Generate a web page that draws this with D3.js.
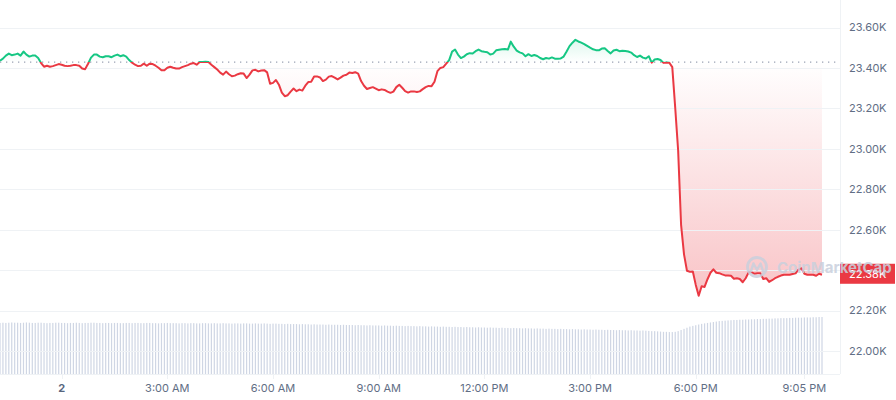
<!DOCTYPE html>
<html><head><meta charset="utf-8">
<script src="https://cdn.jsdelivr.net/npm/d3@7"></script>
<style>
body{margin:0;background:#fff;}
svg{display:block;font-family:Inter,"Noto Sans",sans-serif;}
</style>
</head><body>
<svg id="chart" width="896" height="400"></svg>
<script>
// ---- data ----
const startTime = new Date(2023, 2, 1, 22, 15);
const stepMinutes = 5;
const referencePrice = 23429;
const lastPriceLabel = "22.38K";

const prices = [
23436,23446,23461,23471,23463,23466,23471,23461,23481,23466,
23456,23461,23461,23449,23424,23406,23411,23406,23409,23414,
23419,23416,23411,23409,23411,23414,23414,23411,23397,23394,
23421,23451,23466,23466,23456,23453,23458,23458,23453,23461,
23466,23458,23463,23456,23439,23426,23416,23409,23411,23421,
23411,23421,23419,23411,23401,23389,23389,23401,23406,23401,
23397,23397,23404,23409,23414,23421,23424,23416,23429,23429,
23431,23429,23416,23404,23392,23377,23367,23382,23369,23359,
23362,23369,23374,23372,23350,23367,23388,23391,23383,23387,
23389,23378,23322,23326,23340,23317,23278,23260,23265,23283,
23298,23285,23293,23288,23312,23330,23332,23358,23358,23353,
23335,23342,23357,23360,23352,23343,23352,23362,23366,23377,
23375,23379,23372,23335,23312,23296,23301,23305,23298,23290,
23294,23291,23283,23277,23283,23305,23317,23302,23285,23278,
23284,23284,23281,23284,23295,23305,23311,23310,23332,23384,
23400,23404,23421,23439,23481,23491,23466,23449,23456,23468,
23473,23471,23483,23491,23483,23480,23478,23466,23471,23487,
23490,23492,23494,23491,23530,23505,23486,23477,23472,23458,
23468,23459,23464,23459,23449,23443,23449,23446,23452,23446,
23445,23447,23456,23481,23508,23525,23539,23531,23525,23518,
23509,23500,23492,23488,23487,23496,23497,23484,23472,23486,
23490,23483,23485,23484,23481,23476,23463,23454,23461,23451,
23447,23458,23426,23442,23444,23439,23425,23427,23426,23404,
23203,22991,22624,22478,22397,22392,22393,22327,22273,22320,
22317,22355,22387,22404,22387,22385,22379,22374,22373,22372,
22357,22360,22356,22340,22360,22389,22389,22382,22385,22384,
22356,22360,22342,22350,22360,22367,22373,22377,22377,22377,
22381,22384,22402,22409,22382,22377,22377,22377,22372,22382,22377
];

// 24h volume, billions USD
const volumes = [
22.4,22.5,22.4,22.5,22.6,22.5,22.5,22.4,22.5,22.6,22.5,22.4,22.4,22.5,22.5,22.4,22.3,22.4,22.4,22.5,
22.5,22.4,22.4,22.3,22.4,22.4,22.5,22.4,22.3,22.4,22.4,22.5,22.5,22.4,22.4,22.3,22.4,22.4,22.3,22.4,
22.4,22.3,22.3,22.4,22.4,22.3,22.4,22.4,22.3,22.3,22.4,22.4,22.3,22.3,22.2,22.3,22.3,22.4,22.3,22.3,
22.3,22.2,22.3,22.3,22.2,22.3,22.3,22.2,22.2,22.3,22.3,22.2,22.2,22.3,22.2,22.2,22.3,22.2,22.2,22.1,
22.2,22.2,22.1,22.2,22.2,22.1,22.1,22.2,22.1,22.1,22.2,22.1,22.0,22.1,22.1,22.0,22.0,21.9,22.0,21.9,
21.9,21.9,21.8,21.9,21.8,21.8,21.7,21.8,21.7,21.7,21.7,21.6,21.7,21.6,21.6,21.6,21.5,21.6,21.5,21.5,
21.5,21.4,21.5,21.4,21.4,21.3,21.4,21.3,21.3,21.3,21.2,21.3,21.2,21.2,21.1,21.2,21.1,21.1,21.0,21.1,
21.0,21.0,20.9,21.0,20.9,20.9,20.8,20.9,20.8,20.8,20.7,20.8,20.7,20.7,20.6,20.7,20.6,20.6,20.5,20.6,
20.5,20.5,20.4,20.5,20.4,20.4,20.3,20.4,20.3,20.3,20.2,20.3,20.2,20.2,20.1,20.2,20.1,20.1,20.0,20.1,
20.0,20.0,19.9,20.0,19.9,19.9,19.8,19.9,19.8,19.8,19.7,19.8,19.7,19.7,19.6,19.7,19.6,19.6,19.5,19.6,
19.5,19.5,19.4,19.5,19.4,19.4,19.3,19.4,19.3,19.3,19.2,19.3,19.2,19.2,19.1,19.2,19.1,19.1,19.0,19.1,
19.0,18.9,18.8,18.8,18.7,18.6,18.5,18.5,18.4,18.4,18.5,18.8,19.3,19.8,20.3,20.8,21.1,21.4,21.7,22.0,
22.2,22.4,22.6,22.8,23.0,23.2,23.3,23.4,23.5,23.6,23.7,23.7,23.8,23.8,23.9,23.9,24.0,24.0,24.1,24.1,
24.2,24.2,24.3,24.3,24.4,24.4,24.5,24.5,24.5,24.6,24.6,24.7,24.7,24.7,24.8,24.8,24.8,24.9,24.9,25.0,25.0
];

const yTickValues = [22000, 22200, 22400, 22600, 22800, 23000, 23200, 23400, 23600];
const yTickLabels = ["22.00K","22.20K","22.40K","22.60K","22.80K","23.00K","23.20K","23.40K","23.60K"];
const xTickTimes = [
  new Date(2023,2,2,0,0), new Date(2023,2,2,3,0), new Date(2023,2,2,6,0), new Date(2023,2,2,9,0),
  new Date(2023,2,2,12,0), new Date(2023,2,2,15,0), new Date(2023,2,2,18,0), new Date(2023,2,2,21,5)
];
const xTickLabels = ["2","3:00 AM","6:00 AM","9:00 AM","12:00 PM","3:00 PM","6:00 PM","9:05 PM"];

// ---- build ----
const data = prices.map((p, i) => ({
  t: new Date(startTime.getTime() + i * stepMinutes * 60000),
  p: p,
  v: volumes[i]
}));

const W = 896, H = 400;
const plotRight = 840, plotBottom = 374;
const svg = d3.select("#chart");

const x = d3.scaleTime().domain([data[0].t, data[data.length - 1].t]).range([0, 822]);
const y = d3.scaleLinear().domain([22000, 23600]).range([351, 27.5]);
const yV = d3.scaleLinear().domain([0, 25]).range([plotBottom, 317]);

const RED = "#ea3943", GREEN = "#16c784";
const yRef = y(referencePrice);
const minP = d3.min(prices), maxP = d3.max(prices);

const defs = svg.append("defs");
const rg = defs.append("linearGradient").attr("id", "redGrad")
  .attr("gradientUnits", "userSpaceOnUse").attr("x1", 0).attr("x2", 0)
  .attr("y1", yRef).attr("y2", y(minP));
rg.append("stop").attr("offset", 0).attr("stop-color", RED).attr("stop-opacity", 0.0);
rg.append("stop").attr("offset", 1).attr("stop-color", RED).attr("stop-opacity", 0.3);
const gg = defs.append("linearGradient").attr("id", "greenGrad")
  .attr("gradientUnits", "userSpaceOnUse").attr("x1", 0).attr("x2", 0)
  .attr("y1", yRef).attr("y2", y(maxP));
gg.append("stop").attr("offset", 0).attr("stop-color", GREEN).attr("stop-opacity", 0.0);
gg.append("stop").attr("offset", 1).attr("stop-color", GREEN).attr("stop-opacity", 0.14);

defs.append("clipPath").attr("id", "clipAbove").append("rect")
  .attr("x", -5).attr("y", 0).attr("width", plotRight + 5).attr("height", yRef);
defs.append("clipPath").attr("id", "clipBelow").append("rect")
  .attr("x", -5).attr("y", yRef).attr("width", plotRight + 5).attr("height", H - yRef);

// volume bars
svg.append("g").selectAll("rect").data(data).join("rect")
  .attr("x", d => x(d.t) - 0.6)
  .attr("width", 1.2)
  .attr("y", d => yV(d.v))
  .attr("height", d => plotBottom - yV(d.v))
  .attr("fill", "#cfd6e4");

// areas
const area = d3.area().x(d => x(d.t)).y0(yRef).y1(d => y(d.p));
svg.append("path").datum(data).attr("d", area)
  .attr("fill", "url(#greenGrad)").attr("clip-path", "url(#clipAbove)");
svg.append("path").datum(data).attr("d", area)
  .attr("fill", "url(#redGrad)").attr("clip-path", "url(#clipBelow)");

// gridlines
const grid = svg.append("g");
grid.selectAll("line.h").data(yTickValues).join("line")
  .attr("x1", 0).attr("x2", plotRight)
  .attr("y1", d => Math.round(y(d)) + 0.5).attr("y2", d => Math.round(y(d)) + 0.5)
  .attr("stroke", "#eff2f5").attr("stroke-width", 1);
grid.append("line").attr("x1", plotRight + 0.5).attr("x2", plotRight + 0.5)
  .attr("y1", 0).attr("y2", plotBottom).attr("stroke", "#eff2f5");
grid.append("line").attr("x1", 0).attr("x2", plotRight)
  .attr("y1", plotBottom + 0.5).attr("y2", plotBottom + 0.5).attr("stroke", "#eff2f5");
grid.selectAll("line.t").data(xTickTimes).join("line")
  .attr("x1", d => Math.round(x(d)) + 0.5).attr("x2", d => Math.round(x(d)) + 0.5)
  .attr("y1", plotBottom).attr("y2", plotBottom + 5).attr("stroke", "#eff2f5");

// reference dotted line
svg.append("line").attr("x1", 0).attr("x2", plotRight - 4)
  .attr("y1", yRef).attr("y2", yRef)
  .attr("stroke", "#9aa1b3").attr("stroke-width", 1.2)
  .attr("stroke-dasharray", "1.3,4.7");

// price line
const line = d3.line().x(d => x(d.t)).y(d => y(d.p));
svg.append("path").datum(data).attr("d", line)
  .attr("fill", "none").attr("stroke", GREEN).attr("stroke-width", 2)
  .attr("stroke-linejoin", "round").attr("clip-path", "url(#clipAbove)");
svg.append("path").datum(data).attr("d", line)
  .attr("fill", "none").attr("stroke", RED).attr("stroke-width", 2)
  .attr("stroke-linejoin", "round").attr("clip-path", "url(#clipBelow)");

// y labels
svg.append("g").selectAll("text").data(yTickValues).join("text")
  .attr("x", 849).attr("y", d => y(d))
  .attr("dy", "0.35em")
  .attr("font-size", 11).attr("fill", "#616e85")
  .text((d, i) => yTickLabels[i]);

// x labels
svg.append("g").selectAll("text").data(xTickTimes).join("text")
  .attr("x", d => x(d)).attr("y", 392)
  .attr("text-anchor", "middle")
  .attr("font-size", 11)
  .attr("font-weight", (d, i) => i === 0 ? 700 : 400)
  .attr("fill", (d, i) => i === 0 ? "#58667e" : "#616e85")
  .text((d, i) => xTickLabels[i]);

// last price label
const lastY = y(prices[prices.length - 1]) - 1;
svg.append("rect").attr("x", plotRight).attr("y", lastY - 10)
  .attr("width", W - plotRight - 1).attr("height", 20).attr("fill", RED);
svg.append("text").attr("x", 849).attr("y", lastY).attr("dy", "0.35em")
  .attr("font-size", 11).attr("fill", "#fff").text(lastPriceLabel);

// watermark
const WM = "#c9d0dd";
const wm = svg.append("g").attr("opacity", 0.85);
wm.append("circle").attr("cx", 757).attr("cy", 267).attr("r", 9.5)
  .attr("fill", "none").attr("stroke", WM).attr("stroke-width", 2.8);
wm.append("path")
  .attr("d", "M751,271 L753.5,263.5 L757,270 L760.5,263.5 L763,271")
  .attr("fill", "none").attr("stroke", WM).attr("stroke-width", 2.4)
  .attr("stroke-linejoin", "round").attr("stroke-linecap", "round");
wm.append("text").attr("x", 777).attr("y", 272.5)
  .attr("font-size", 15).attr("font-weight", 700).attr("fill", WM)
  .text("CoinMarketCap");
</script>
</body></html>
